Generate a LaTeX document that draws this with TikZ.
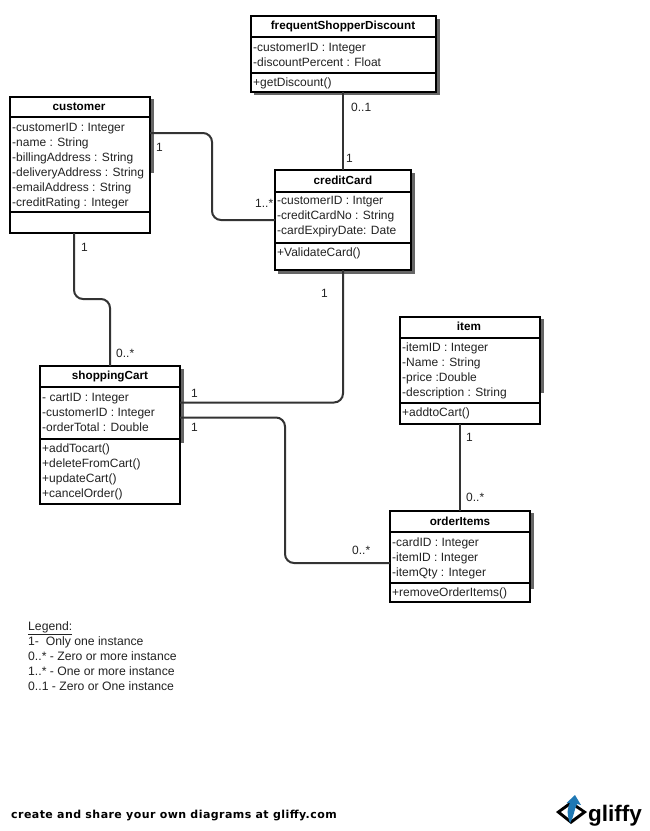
\documentclass[tikz,border=0pt]{standalone}
\usepackage{fontspec}
\setmainfont{Liberation Sans}
\newfontfamily\wideb{DejaVu Sans}[LetterSpace=4]
\definecolor{shade}{HTML}{666666}
\definecolor{linec}{HTML}{333333}
\definecolor{txt}{HTML}{222222}
\definecolor{gblue}{HTML}{1F78B4}
\tikzset{
  x=1pt,y=-1pt,
  classbox/.style={draw=black,line width=2pt,fill=white,anchor=north west,inner sep=0pt,outer sep=0pt},
  shadowbar/.style={fill=shade,draw=none},
  divider/.style={draw=black,line width=1.6pt},
  conn/.style={draw=linec,line width=2pt,rounded corners=9pt},
  title/.style={font=\fontsize{11.7}{15}\selectfont\bfseries,text=black,inner sep=0pt,anchor=center},
  members/.style={font=\fontsize{12}{15}\selectfont,text=txt,inner sep=0pt,anchor=north west,align=left},
  mult/.style={font=\fontsize{12}{15}\selectfont,text=txt,inner sep=0pt,anchor=west},
}
\begin{document}
\begin{tikzpicture}
\useasboundingbox (0,0) rectangle (650,831);
% shadows
\fill[shadowbar] (254,19) rectangle (439.5,95);
\fill[shadowbar] (150,99) rectangle (154,173);
\fill[shadowbar] (278,173) rectangle (415,274);
\fill[shadowbar] (540,319) rectangle (544,393);
\fill[shadowbar] (180,369) rectangle (184,443);
\fill[shadowbar] (530,513) rectangle (534,589);
% boxes
\node[classbox,minimum width=185pt,minimum height=76pt] (fsd) at (251,16) {};
\node[classbox,minimum width=140pt,minimum height=136pt] (customer) at (10,97) {};
\node[classbox,minimum width=136pt,minimum height=100pt] (card) at (275,170) {};
\node[classbox,minimum width=140pt,minimum height=107pt] (item) at (400,317) {};
\node[classbox,minimum width=140pt,minimum height=138pt] (cart) at (40,366) {};
\node[classbox,minimum width=140pt,minimum height=91pt] (order) at (390,511) {};
% connectors
\draw[conn] (fsd.south -| 343,0) -- (card.north -| 343,0);
\draw[conn] (customer.east |- 0,133) -- (212,133) -- (212,220) -- (card.west |- 0,220);
\draw[conn] (customer.south -| 74,0) -- (74,299) -- (110,299) -- (cart.north -| 110,0);
\draw[conn] (card.south -| 343,0) -- (343,402.5) -- (cart.east |- 0,402.5);
\draw[conn] (cart.east |- 0,417.5) -- (285,417.5) -- (285,563) -- (order.west |- 0,563);
\draw[conn] (item.south -| 460,0) -- (order.north -| 460,0);
% dividers
\draw[divider] (fsd.west |- 0,37) -- (fsd.east |- 0,37);
\draw[divider] (fsd.west |- 0,73) -- (fsd.east |- 0,73);
\draw[divider] (customer.west |- 0,117) -- (customer.east |- 0,117);
\draw[divider] (customer.west |- 0,212) -- (customer.east |- 0,212);
\draw[divider] (card.west |- 0,192) -- (card.east |- 0,192);
\draw[divider] (card.west |- 0,243) -- (card.east |- 0,243);
\draw[divider] (item.west |- 0,338) -- (item.east |- 0,338);
\draw[divider] (item.west |- 0,403) -- (item.east |- 0,403);
\draw[divider] (cart.west |- 0,387) -- (cart.east |- 0,387);
\draw[divider] (cart.west |- 0,439) -- (cart.east |- 0,439);
\draw[divider] (order.west |- 0,532) -- (order.east |- 0,532);
\draw[divider] (order.west |- 0,583) -- (order.east |- 0,583);
% titles
\node[title] (t1) at (343,26.5) {frequentShopperDiscount};
\node[title] (t2) at (79,106.5) {customer};
\node[title] (t3) at (343,180) {creditCard};
\node[title] (t4) at (469,326) {item};
\node[title] (t5) at (110,376) {shoppingCart};
\node[title] (t6) at (460,521) {orderItems};
% members
\node[members] (m1) at (253,43) {-customerID : Integer\\-discountPercent : Float};
\node[members] (o1) at (253,78) {+getDiscount()};
\node[members] (m2) at (12,123) {-customerID : Integer\\-name : String\\-billingAddress : String\\-deliveryAddress : String\\-emailAddress : String\\-creditRating : Integer};
\node[members] (m3) at (277,196.5) {-customerID : Intger\\-creditCardNo : String\\-cardExpiryDate: Date};
\node[members] (o3) at (277,248) {+ValidateCard()};
\node[members] (m4) at (402,342.5) {-itemID : Integer\\-Name : String\\-price :Double\\-description : String};
\node[members] (o4) at (402,408) {+addtoCart()};
\node[members] (m5) at (42,393) {- cartID : Integer\\-customerID : Integer\\-orderTotal : Double};
\node[members] (o5) at (42,444) {+addTocart()\\+deleteFromCart()\\+updateCart()\\+cancelOrder()};
\node[members] (m6) at (392,537.5) {-cardID : Integer\\-itemID : Integer\\-itemQty : Integer};
\node[members] (o6) at (392,588) {+removeOrderItems()};
% multiplicities
\node[mult] (a1) at (351,107) {0..1};
\node[mult] (a2) at (346,158) {1};
\node[mult] (a3) at (156,147) {1};
\node[mult] (a4) at (255,203) {1..*};
\node[mult] (a5) at (81,247) {1};
\node[mult] (a6) at (116,353) {0..*};
\node[mult] (a7) at (321,293) {1};
\node[mult] (a8) at (191,393.5) {1};
\node[mult] (a9) at (191,427) {1};
\node[mult] (a10) at (466,437) {1};
\node[mult] (a11) at (466,497) {0..*};
\node[mult] (a12) at (352,550) {0..*};
% legend
\node[members,font=\fontsize{12.2}{15}\selectfont] (legend) at (28,621) {\underline{Legend:}\\1-\ \ Only one instance\\0..* - Zero or more instance\\1..* - One or more instance\\0..1 - Zero or One instance};
% footer
\node[inner sep=0pt,anchor=west,text=black,font=\wideb\fontsize{11}{13}\selectfont\bfseries] (foot) at (11,815) {create and share your own diagrams at gliffy.com};
% logo
\fill[black] (556,812) -- (571,801) -- (587,812) -- (571,824) -- cycle;
\fill[white] (561,812) -- (571,805) -- (582,812) -- (571,820) -- cycle;
\fill[gblue] (570,823) .. controls (566,813) and (568,806) .. (570,803) -- (566.5,803) -- (575,795) -- (581,805) -- (577,804) .. controls (574,810) and (574,817) .. (570,823) -- cycle;
\node[inner sep=0pt,anchor=base west,text=black,font=\fontsize{22.5}{26}\selectfont\bfseries] (logo) at (588,821.5) {gliffy};
\end{tikzpicture}
\end{document}
